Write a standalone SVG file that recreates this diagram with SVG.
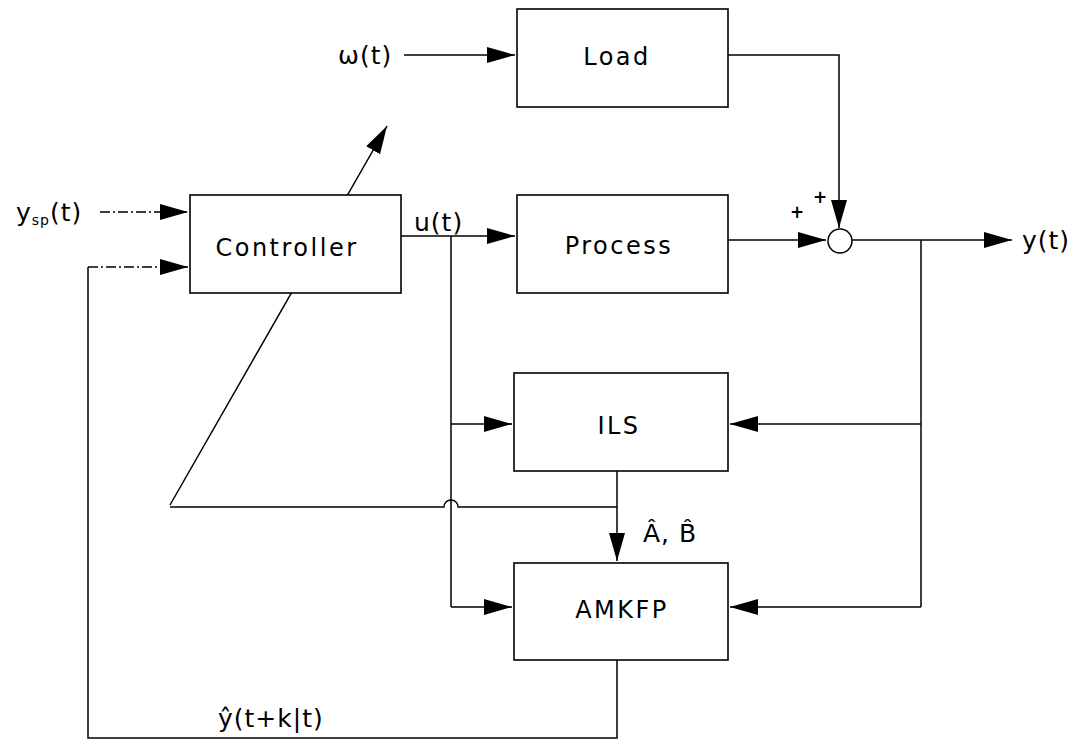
<svg xmlns="http://www.w3.org/2000/svg" width="1073" height="740" viewBox="0 0 1073 740">
<style>
.box{fill:#fff;stroke:#000;stroke-width:1.6}
.ln{fill:none;stroke:#000;stroke-width:1.5}
.dd{fill:none;stroke:#000;stroke-width:1.4;stroke-dasharray:10 3 2 3}
text{font-family:"DejaVu Sans","Liberation Sans",sans-serif;fill:#000}
.lb{font-size:24px;letter-spacing:2.5px;text-anchor:middle}
.sm{font-size:25px;letter-spacing:1px}
.pl{font-size:17px;font-weight:bold;text-anchor:middle}
</style>
<defs>
<marker id="ah" markerUnits="userSpaceOnUse" markerWidth="30" markerHeight="18" refX="28" refY="8" orient="auto">
<path d="M0,0 L28,8 L0,16 Z" fill="#000"/>
</marker>
</defs>
<rect width="1073" height="740" fill="#fff"/>
<g id="connectors">
<path class="ln" d="M404,55 H515" marker-end="url(#ah)"/>
<path class="ln" d="M728,55 H839 V228" marker-end="url(#ah)"/>
<path class="ln" d="M170,505 L387,126" marker-end="url(#ah)"/>
<path class="dd" d="M100,212 H188" marker-end="url(#ah)"/>
<path class="ln" d="M401,236 H515" marker-end="url(#ah)"/>
<path class="ln" d="M728,240 H826" marker-end="url(#ah)"/>
<path class="ln" d="M852,240 H1012" marker-end="url(#ah)"/>
<path class="ln" d="M921,240 V607"/>
<path class="ln" d="M921,424 H730" marker-end="url(#ah)"/>
<path class="ln" d="M921,607 H730" marker-end="url(#ah)"/>
<path class="ln" d="M451,236 V607"/>
<path class="ln" d="M451,424 H512" marker-end="url(#ah)"/>
<path class="ln" d="M451,607 H512" marker-end="url(#ah)"/>
<path class="ln" d="M617,471 V561" marker-end="url(#ah)"/>
<path class="ln" d="M617,507 H458 A7,7 0 0 0 444,507 H170"/>
<path class="ln" d="M617,660 V738 H88 V267"/>
<path class="dd" d="M88,267 H188" marker-end="url(#ah)"/>
</g>
<g id="load"><rect class="box" x="517" y="9" width="211" height="98"/><text class="lb" x="617" y="65">Load</text></g>
<g id="controller"><rect class="box" x="190" y="195" width="211" height="98"/><text class="lb" x="287" y="256">Controller</text></g>
<g id="process"><rect class="box" x="517" y="195" width="211" height="98"/><text class="lb" x="619" y="254">Process</text></g>
<g id="sum"><circle cx="840" cy="241" r="12" fill="#fff" stroke="#000" stroke-width="1.5"/>
<text class="pl" x="797" y="218">+</text>
<text class="pl" x="820" y="203">+</text></g>
<g id="ils"><rect class="box" x="514" y="373" width="214" height="98"/><text class="lb" x="619" y="434">ILS</text></g>
<g id="amkfp"><rect class="box" x="514" y="563" width="214" height="97"/><text class="lb" x="622" y="618">AMKFP</text></g>
<g id="labels">
<text class="sm" x="338" y="64">ω(t)</text>
<text class="sm" x="16" y="221">y<tspan font-size="14" dy="4">sp</tspan><tspan dy="-4">(t)</tspan></text>
<text class="sm" x="414" y="231">u(t)</text>
<text class="sm" x="1022" y="249">y(t)</text>
<text class="sm" x="643" y="542" letter-spacing="3">Â, B̂</text>
<text class="sm" x="218" y="727">ŷ(t+k|t)</text>
</g>
</svg>
